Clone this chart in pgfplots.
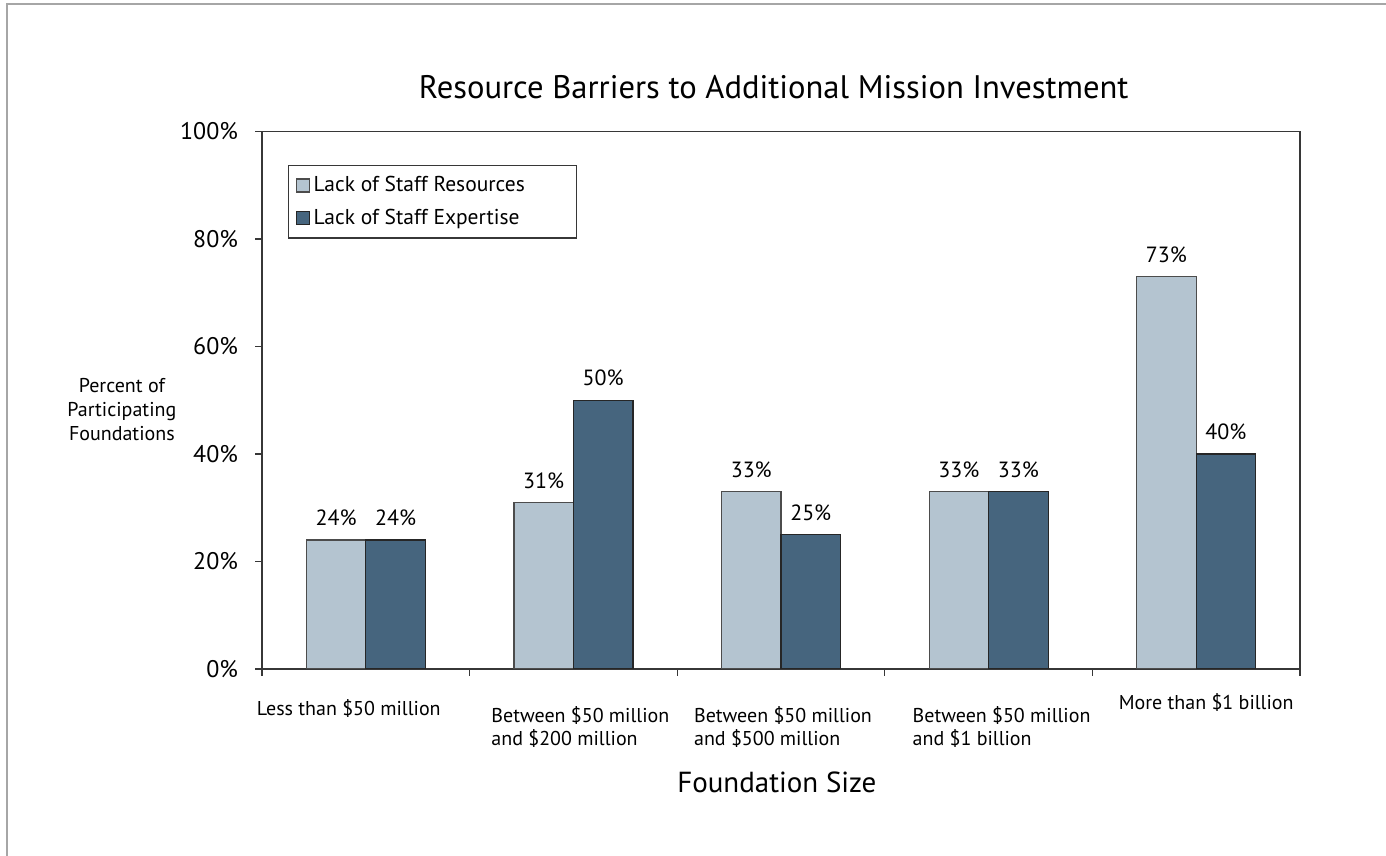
\documentclass[border=0pt]{standalone}
\usepackage{pgfplots}
\pgfplotsset{compat=1.18}
\usepackage{fontspec}
\setmainfont{PT Sans}
\definecolor{lightbar}{RGB}{180,196,208}
\definecolor{darkbar}{RGB}{70,101,126}
\definecolor{axisgray}{RGB}{55,55,55}
\begin{document}
\begin{tikzpicture}
\useasboundingbox (0,0) rectangle (693pt,428pt);
\draw[gray!70, line width=1pt] (3.5pt,0) -- (3.5pt,426pt) -- (693pt,426pt);
\begin{axis}[
  at={(131pt,93.5pt)}, anchor=south west,
  scale only axis, width=519pt, height=268.75pt,
  ybar=0pt, bar width=29.75pt,
  xmin=-0.5, xmax=4.5, ymin=0, ymax=100,
  axis line style={axisgray, line width=0.6pt},
  tick style={axisgray, line width=0.6pt},
  tick align=outside, tick pos=left,
  major tick length=3.5pt, minor tick length=3.5pt,
  xtick={0,1,2,3,4},
  major x tick style={draw=none},
  minor xtick={-0.5,0.5,1.5,2.5,3.5,4.5},
  xticklabels={
    {\hspace*{-17pt}\raisebox{3.5pt}[\height][\depth]{Less than \$50 million}},
    {\hspace*{7pt}Between \$50 million\\\hspace*{7pt}and \$200 million},
    {\hspace*{2pt}Between \$50 million\\\hspace*{2pt}and \$500 million},
    {\hspace*{13pt}Between \$50 million\\\hspace*{13pt}and \$1 billion},
    {\hspace*{10pt}\raisebox{6.5pt}[\height][\depth]{More than \$1 billion}}},
  xticklabel style={align=left, anchor=north, font=\fontsize{10}{11.5}\selectfont, yshift=-11.5pt},
  ytick={0,20,40,60,80,100},
  yticklabel={\pgfmathprintnumber{\tick}\%},
  yticklabel style={font=\fontsize{12}{14}\selectfont, xshift=-5pt},
  /pgf/number format/assume math mode=true,
  title={Resource Barriers to Additional Mission Investment},
  title style={font=\fontsize{16.3}{19}\selectfont, at={(axis description cs:0.493,1.061)}, anchor=center},
  xlabel={Foundation Size},
  xlabel style={font=\fontsize{14.5}{17}\selectfont, at={(axis description cs:0.496,-0.21)}, anchor=center},
  ylabel={Percent of\\Participating\\Foundations},
  ylabel style={font=\fontsize{10}{12}\selectfont, align=center, rotate=-90, at={(axis description cs:-0.135,0.482)}, anchor=center},
  nodes near coords={\pgfmathprintnumber{\pgfplotspointmeta}\%},
  every node near coord/.append style={font=\fontsize{11}{13}\selectfont, anchor=center, yshift=11pt, text=black},
  legend style={at={(0.025,0.938)}, anchor=north west, draw=axisgray, line width=0.6pt, font=\fontsize{10.75}{13}\selectfont, cells={anchor=west}, inner xsep=3.5pt, inner ysep=3.5pt, row sep=3pt},
  legend image code/.code={\draw[#1] (0pt,-3.25pt) rectangle (6.5pt,3.25pt);},
]
\addplot[fill=lightbar, draw=black!70, line width=0.6pt] coordinates {(0,24) (1,31) (2,33) (3,33) (4,73)};
\addplot[fill=darkbar, draw=black!85, line width=0.6pt] coordinates {(0,24) (1,50) (2,25) (3,33) (4,40)};
\legend{\makebox[126pt][l]{Lack of Staff Resources}, \makebox[126pt][l]{Lack of Staff Expertise}}
\end{axis}
\end{tikzpicture}
\end{document}
